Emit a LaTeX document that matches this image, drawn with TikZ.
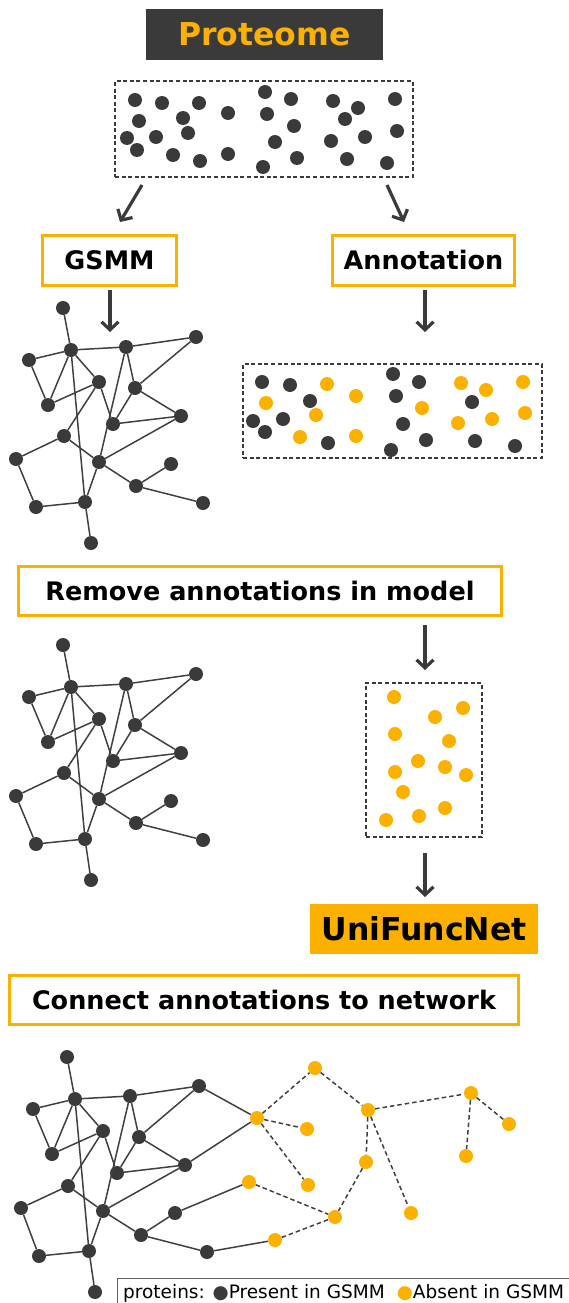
\documentclass[tikz,border=0pt]{standalone}
\usepackage{fontspec}
\setmainfont{DejaVu Sans}
\usetikzlibrary{arrows.meta}
\definecolor{dkc}{HTML}{3A3A3A}
\definecolor{orc}{HTML}{FCB100}
\definecolor{edgc}{HTML}{404040}
\definecolor{legc}{HTML}{606060}
\newcommand\gsmnet[2]{%
\begin{scope}[shift={(0,#2)}]
\foreach \x/\y [count=\i] in {63/308,71/350,126/347,196/337,29/360,99/382,135/388,48/405,113/424,181/416,64/436,16/459,99/462,171/464,136/486,36/507,85/502,203/503,91/543}
  \node[dk] (#1\i) at (\x,\y) {};
\foreach \a/\b in {1/2,2/3,3/4,5/2,5/8,8/2,2/6,8/6,2/17,3/7,3/13,13/17,4/7,7/10,7/9,6/9,9/10,6/11,11/12,11/13,13/10,13/15,15/14,15/18,12/16,16/17,17/19}
  \draw[ln] (#1\a) -- (#1\b);
\end{scope}}
\begin{document}
\begin{tikzpicture}[x=1pt,y=-1pt,
 dk/.style={circle,fill=dkc,inner sep=0pt,minimum size=14pt},
 od/.style={circle,fill=orc,inner sep=0pt,minimum size=14pt},
 ln/.style={draw=edgc,line width=1.5pt},
 dln/.style={ln,dash pattern=on 4.5pt off 3pt},
 dbox/.style={draw=dkc,line width=2pt,dash pattern=on 4pt off 2.6pt,inner sep=0pt},
 obox/.style={draw=orc,line width=3pt,inner sep=0pt,text height=18.6pt,text depth=0pt,font=\bfseries\fontsize{25.5}{30}\selectfont},
 arr/.style={draw=dkc,line width=3.2pt,-{Straight Barb[length=8pt,width=17pt]}},
]
\useasboundingbox (0,0) rectangle (568,1303);
% title
\node[fill=dkc,minimum width=237pt,minimum height=51pt,inner sep=0pt,text=orc,text height=23pt,text depth=0pt,font=\bfseries\fontsize{31.5}{36}\selectfont] (prot) at (264.5,34.5) {Proteome};
% proteome box
\node[dbox,minimum width=298pt,minimum height=96pt] (pbox) at (264,129) {};
\foreach \x/\y [count=\i] in {135/100,162/103,199/103,228/113,265/92,291/99,333/101,358/108,395/99,139/121,183/118,267/114,345/119,294/126,127/138,156/137,188/133,275/142,331/141,365/137,397/131,137/150,173/155,200/161,228/154,263/167,297/158,347/159,387/163}
  \node[dk] (pd\i) at (\x,\y) {};
% arrows to GSMM / Annotation
\coordinate (a1s) at (142,185); \coordinate (a1e) at (120,222);
\coordinate (a2s) at (387,185); \coordinate (a2e) at (404,222);
\draw[arr] (a1s) -- (a1e);
\draw[arr] (a2s) -- (a2e);
\node[obox,minimum width=134pt,minimum height=50pt] (gsmm) at (109.5,260.5) {GSMM};
\node[obox,minimum width=182pt,minimum height=50pt] (annot) at (423.5,260.5) {Annotation};
\coordinate (a3s) at (110,290); \coordinate (a3e) at (110,332);
\coordinate (a4s) at (425,290); \coordinate (a4e) at (425,332);
\draw[arr] (a3s) -- (a3e);
\draw[arr] (a4s) -- (a4e);
% network 1
\gsmnet{na}{0}
% annotation box
\node[dbox,minimum width=299pt,minimum height=94pt] (abox) at (392.5,411) {};
\foreach \x/\y [count=\i] in {262/382,290/385,393/374,419/382,310/401,396/396,472/402,253/421,283/419,403/424,265/432,328/443,391/450,426/440,475/441,515/446}
  \node[dk] (ad\i) at (\x,\y) {};
\foreach \x/\y [count=\i] in {327/384,356/396,461/383,486/390,523/382,266/403,422/408,316/415,458/423,492/419,525/413,300/437,356/436}
  \node[od] (ao\i) at (\x,\y) {};
% remove box
\node[obox,minimum width=483pt,minimum height=49pt] (remove) at (260,591) {Remove annotations in model};
\coordinate (a5s) at (425,625); \coordinate (a5e) at (425,670);
\draw[arr] (a5s) -- (a5e);
% network 2
\gsmnet{nb}{337}
% orange box
\node[dbox,minimum width=116pt,minimum height=154pt] (obx) at (424,760) {};
\foreach \x/\y [count=\i] in {394/697,463/708,435/717,395/734,449/741,418/761,445/767,395/772,466/775,403/792,445/808,419/816,386/820}
  \node[od] (oo\i) at (\x,\y) {};
\coordinate (a6s) at (425,853); \coordinate (a6e) at (425,897);
\draw[arr] (a6s) -- (a6e);
\node[fill=orc,minimum width=228pt,minimum height=50pt,inner sep=0pt,text height=23pt,text depth=0pt,font=\bfseries\fontsize{31.5}{36}\selectfont] (ufn) at (424,929) {UniFuncNet};
\node[obox,minimum width=509pt,minimum height=49pt] (connect) at (264,1000) {Connect annotations to network};
% bottom network
\foreach \n/\x/\y in {b1/67/1057,b2/75/1099,b3/130/1096,b4/199/1086,b5/33/1109,b6/103/1131,b7/139/1137,b8/52/1154,b9/117/1173,b10/185/1165,b11/68/1186,b12/21/1208,b13/103/1211,b14/175/1213,b15/141/1235,b16/39/1256,b17/89/1251,b18/207/1252,b19/95/1292}
  \node[dk] (\n) at (\x,\y) {};
\foreach \n/\x/\y in {o1/257/1118,o2/249/1182,o3/275/1240,p1/315/1068,p2/307/1129,p3/308/1185,p4/368/1110,p5/366/1162,p6/335/1217,p7/411/1213,p8/471/1093,p9/509/1124,p10/466/1156}
  \node[od] (\n) at (\x,\y) {};
\foreach \a/\b in {1/2,2/3,3/4,5/2,5/8,8/2,2/6,8/6,2/17,3/7,3/13,13/17,4/7,7/10,7/9,6/9,9/10,6/11,11/12,11/13,13/10,13/15,15/14,15/18,12/16,16/17,17/19}
  \draw[ln] (b\a) -- (b\b);
\draw[ln] (b4) -- (o1);
\draw[ln] (b10) -- (o1);
\draw[ln] (b14) -- (o2);
\draw[ln] (b18) -- (o3);
\foreach \a/\b in {o1/p1,o1/p2,o1/p3,p1/p4,p4/p5,p4/p7,p4/p8,p8/p10,p8/p9,p5/p6,o2/p6,o3/p6}
  \draw[dln] (\a) -- (\b);
% legend
\node[draw=legc,line width=1.2pt,anchor=north west,minimum width=470pt,minimum height=40pt,inner sep=0pt] (leg) at (117,1278) {};
\node[anchor=base west,inner sep=0pt,font=\fontsize{18.5}{22}\selectfont] (legt) at (123,1298) {proteins: \textcolor{dkc}{●}Present in GSMM\hspace{12pt}\textcolor{orc}{●}Absent in GSMM};
\end{tikzpicture}
\end{document}
